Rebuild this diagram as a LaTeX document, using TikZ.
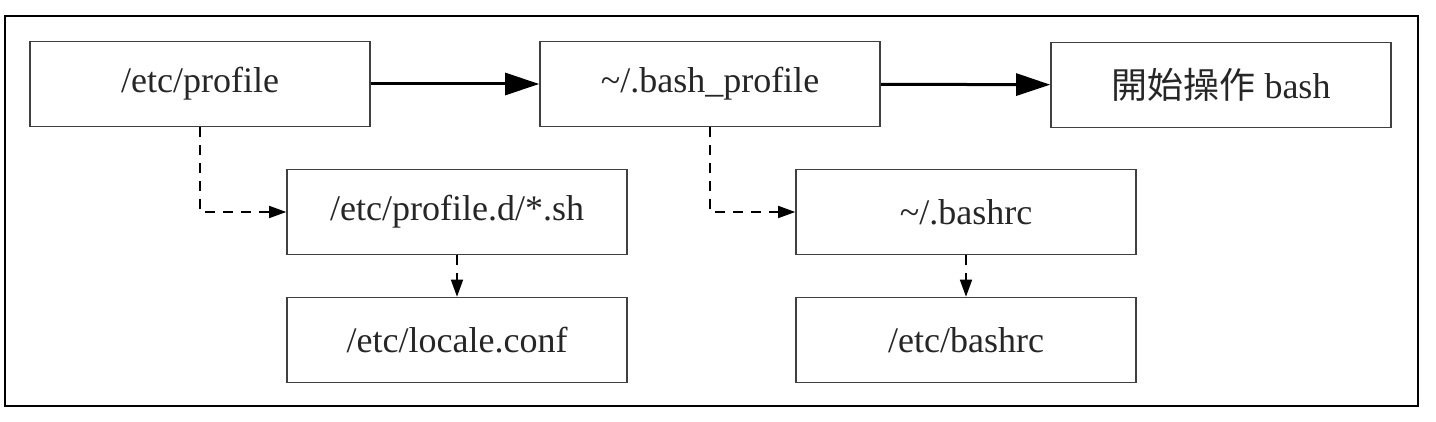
\documentclass[tikz,border=0pt]{standalone}
\usepackage{fontspec}
\setmainfont{Liberation Serif}
\newfontfamily\cjk{Noto Sans CJK TC}
\usetikzlibrary{arrows.meta}
\tikzset{
    filenode/.style={
        rectangle,
        draw=black!75, % 边框颜色为深灰
        line width=0.8pt,
        minimum width=170pt,
        minimum height=42.5pt,
        inner sep=0,
        text=black!85,
        font=\fontsize{18}{22}\selectfont
    },
    mainarrow/.style={
        line width=1.5pt, % 主流程箭头加粗
        -{Triangle[length=17pt,width=11pt]}
    },
    subarrow/.style={
        line width=0.8pt,
        dash pattern=on 5pt off 4pt, % 虚线
        -{Triangle[length=8.5pt,width=6pt]}
    }
}

\begin{document}
\begin{tikzpicture}[x=0.5pt,y=-0.5pt]
            \useasboundingbox (0,0) rectangle (1436,422);
            % 外框
            \draw[line width=1pt] (5,16) rectangle (1418,406);
            % 主流程
            \node[filenode] (profile) at (200,84) {/etc/profile};
            \node[filenode] (bashprofile) at (710,84) {\textasciitilde/.bash\_profile};
            \node[filenode] (startbash) at (1221,85) {{\cjk 開始操作} bash};
            % 被读取的文件
            \node[filenode] (profiled) at (457,212) {/etc/profile.d/*.sh};
            \node[filenode] (localeconf) at (457,340) {/etc/locale.conf};
            \node[filenode] (bashrc) at (966,212) {\textasciitilde/.bashrc};
            \node[filenode] (etcbashrc) at (966,340) {/etc/bashrc};
            % 连线
            \draw[mainarrow] (profile) -- (bashprofile);
            \draw[mainarrow] (bashprofile) -- (startbash);
            \draw[subarrow] (profile.south) |- (profiled.west);
            \draw[subarrow] (bashprofile.south) |- (bashrc.west);
            \draw[subarrow] (profiled) -- (localeconf);
            \draw[subarrow] (bashrc) -- (etcbashrc);
            \end{tikzpicture}
\end{document}
